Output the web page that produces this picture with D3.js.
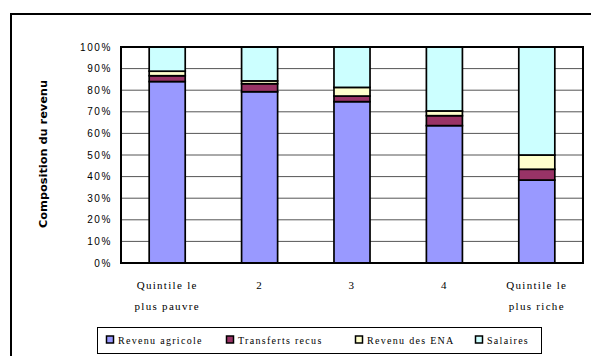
<!DOCTYPE html>
<meta charset="utf-8">
<style>
body { margin: 0; background: #fff; }
.tick-lbl { font: 10px "Liberation Sans", Arial, sans-serif; letter-spacing: 1.6px; }
.cat-lbl { font: 11px "Liberation Serif", "Times New Roman", serif; letter-spacing: 1.3px; }
.leg-lbl { font: 10px "Liberation Serif", "Times New Roman", serif; letter-spacing: 1.3px; }
</style>
<body>
<script src="https://d3js.org/d3.v7.js"></script>
<script>

var categories = [["Quintile le", "plus pauvre"], ["2"], ["3"], ["4"], ["Quintile le", "plus riche"]];
var seriesNames = ["Revenu agricole", "Transferts recus", "Revenu des ENA", "Salaires"];
var revenuAgricole = [84.0, 79.3, 74.7, 63.6, 38.4];
var transferts = [2.7, 3.7, 2.6, 4.6, 5.0];
var revenuENA = [2.1, 1.3, 4.0, 2.2, 6.6];
var salaires = [11.2, 15.7, 18.7, 29.6, 50.0];
var yTicks = [0, 10, 20, 30, 40, 50, 60, 70, 80, 90, 100];
var colors = ["#9999ff", "#993366", "#ffffcc", "#ccffff"];

var width = 591, height = 356;
var plot = {left: 121, right: 583, top: 47, bottom: 263};

var svg = d3.select("body").append("svg")
    .attr("width", width)
    .attr("height", height);

// outer chart frame
svg.append("path")
    .attr("d", `M11,360 V14 H595`)
    .attr("fill", "none")
    .attr("stroke", "#000")
    .attr("stroke-width", 2);

var xScale = d3.scaleBand()
    .domain(d3.range(categories.length))
    .range([plot.left, plot.right]);

var yScale = d3.scaleLinear()
    .domain([0, 100])
    .range([plot.bottom, plot.top]);

var barW = xScale.bandwidth() * 0.39;

// gridlines
svg.append("g")
  .selectAll("line")
  .data(yTicks.slice(1, -1))
  .enter().append("line")
    .attr("x1", plot.left)
    .attr("x2", plot.right)
    .attr("y1", d => yScale(d))
    .attr("y2", d => yScale(d))
    .attr("stroke", "#555")
    .attr("stroke-width", 1);

// y tick labels
svg.append("g")
  .selectAll("text")
  .data(yTicks)
  .enter().append("text")
    .attr("class", "tick-lbl")
    .attr("x", 112)
    .attr("y", d => yScale(d))
    .attr("dy", "0.35em")
    .attr("text-anchor", "end")
    .text(d => d + "%");

// stacked bars
var table = categories.map((c, i) => ({
  i: i,
  s0: revenuAgricole[i], s1: transferts[i], s2: revenuENA[i], s3: salaires[i]
}));
var stack = d3.stack().keys(["s0", "s1", "s2", "s3"])(table);

svg.append("g")
  .selectAll("g")
  .data(stack)
  .enter().append("g")
    .attr("fill", (d, k) => colors[k])
  .selectAll("rect")
  .data(d => d)
  .enter().append("rect")
    .attr("x", d => xScale(d.data.i) + (xScale.bandwidth() - barW) / 2)
    .attr("width", barW)
    .attr("y", d => yScale(d[1]))
    .attr("height", d => yScale(d[0]) - yScale(d[1]))
    .attr("stroke", "#000")
    .attr("stroke-width", 1.7);

// plot border
svg.append("rect")
    .attr("x", plot.left)
    .attr("y", plot.top)
    .attr("width", plot.right - plot.left)
    .attr("height", plot.bottom - plot.top)
    .attr("fill", "none")
    .attr("stroke", "#000")
    .attr("stroke-width", 2);

// category labels
svg.append("g")
  .selectAll("text")
  .data(categories)
  .enter().append("text")
    .attr("class", "cat-lbl")
    .attr("text-anchor", "middle")
    .attr("x", (d, i) => xScale(i) + xScale.bandwidth() / 2)
    .attr("y", 289)
  .selectAll("tspan")
  .data(d => d)
  .enter().append("tspan")
    .attr("x", function() { return this.parentNode.getAttribute("x"); })
    .attr("dy", (d, j) => j ? 21 : 0)
    .text(d => d);

// y title
svg.append("text")
    .attr("transform", "translate(47,154) rotate(-90)")
    .attr("text-anchor", "middle")
    .attr("textLength", 148)
    .attr("lengthAdjust", "spacingAndGlyphs")
    .style("font", "bold 10px 'DejaVu Sans', sans-serif")
    .text("Composition du revenu");

// legend
var legend = svg.append("g");
legend.append("rect")
    .attr("x", 97.5)
    .attr("y", 327.5)
    .attr("width", 444)
    .attr("height", 26)
    .attr("fill", "#fff")
    .attr("stroke", "#000")
    .attr("stroke-width", 1);

var legX = [106, 226, 355, 475];
var items = legend.selectAll("g.item")
  .data(seriesNames)
  .enter().append("g")
    .attr("class", "item")
    .attr("transform", (d, i) => `translate(${legX[i]},340)`);

items.append("rect")
    .attr("x", 0.5)
    .attr("y", -4)
    .attr("width", 7)
    .attr("height", 7)
    .attr("fill", (d, i) => colors[i])
    .attr("stroke", "#000")
    .attr("stroke-width", 1.5);

items.append("text")
    .attr("class", "leg-lbl")
    .attr("x", 12)
    .attr("dy", "0.35em")
    .text(d => d);

</script>
